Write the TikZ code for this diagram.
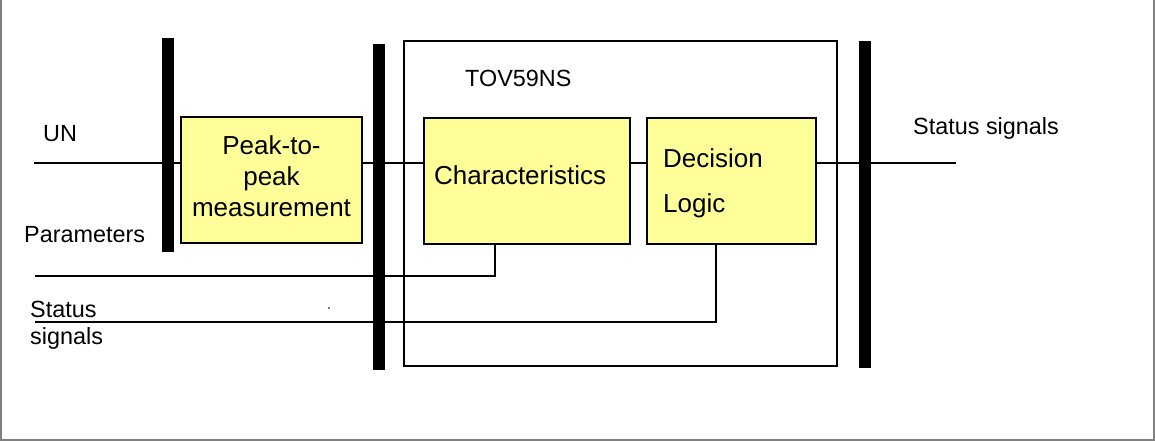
\documentclass[tikz,border=0pt]{standalone}
\usepackage{fontspec}
\setmainfont{Liberation Sans}
\newcommand\labfont{\fontsize{23.4}{28}\selectfont}
\newcommand\boxfont{\fontsize{26}{31}\selectfont}
\begin{document}
\begin{tikzpicture}[x=1pt,y=-1pt,
  yellowbox/.style={draw=black,line width=1.8pt,fill=boxyellow,inner sep=0pt},
  busbar/.style={fill=black,draw=none,inner sep=0pt,minimum width=12pt},
  sigline/.style={draw=black,line width=1.6pt},
  lab/.style={inner sep=0pt,anchor=base west,font=\labfont},
  btext/.style={inner sep=0pt,font=\boxfont}]
\definecolor{boxyellow}{HTML}{FFFF99}
\definecolor{framegray}{HTML}{808080}
\useasboundingbox (0,0) rectangle (1155,441);
\draw[framegray,line width=1.2pt] (1,0) -- (1,440) -- (1154,440) -- (1154,0);
% coordinates for free ends
\coordinate (unin) at (34,163);
\coordinate (out) at (956,163);
\coordinate (parin) at (35,276);
\coordinate (statin) at (35,322);
% enclosing function box
\node[draw=black,line width=1.5pt,minimum width=433pt,minimum height=325pt,inner sep=0pt] (tov) at (620.5,203.5) {};
% yellow boxes
\node[yellowbox,minimum width=181pt,minimum height=126pt] (peak) at (271.5,180) {};
\node[yellowbox,minimum width=206pt,minimum height=126pt] (char) at (527,181) {};
\node[yellowbox,minimum width=169pt,minimum height=126pt] (dec) at (731.5,181) {};
% connectors
\draw[sigline] (unin) -- (peak.west |- unin);
\draw[sigline] (peak.east |- unin) -- (char.west |- unin);
\draw[sigline] (char.east |- unin) -- (dec.west |- unin);
\draw[sigline] (dec.east |- out) -- (out);
\draw[sigline] (parin) -| ([xshift=-32pt]char.south);
\draw[sigline] (statin) -| ([xshift=-15.5pt]dec.south);
% bus bars
\node[busbar,minimum height=214pt] (bar1) at (168,145) {};
\node[busbar,minimum height=326pt] (bar2) at (379,207) {};
\node[busbar,minimum height=327pt] (bar3) at (864.5,204.5) {};
% stray dot
\fill (329,308) circle (0.8pt);
% texts
\node[lab] (tun) at (43,141) {UN};
\node[lab] (tpar) at (24,242) {Parameters};
\node[lab] (tstat1) at (30,317) {Status};
\node[lab] (tstat2) at (30,344) {signals};
\node[lab] (ttov) at (465,87) {TOV59NS};
\node[lab] (tout) at (913,135) {Status signals};
\node[btext,anchor=base] (tp1) at (271.5,154) {Peak-to-};
\node[btext,anchor=base] (tp2) at (271.5,185) {peak};
\node[btext,anchor=base] (tp3) at (271.5,216) {measurement};
\node[btext,anchor=base west] (tchar) at (434,184) {Characteristics};
\node[btext,anchor=base west] (tdec1) at (663,167) {Decision};
\node[btext,anchor=base west] (tdec2) at (663,212) {Logic};
\end{tikzpicture}
\end{document}
